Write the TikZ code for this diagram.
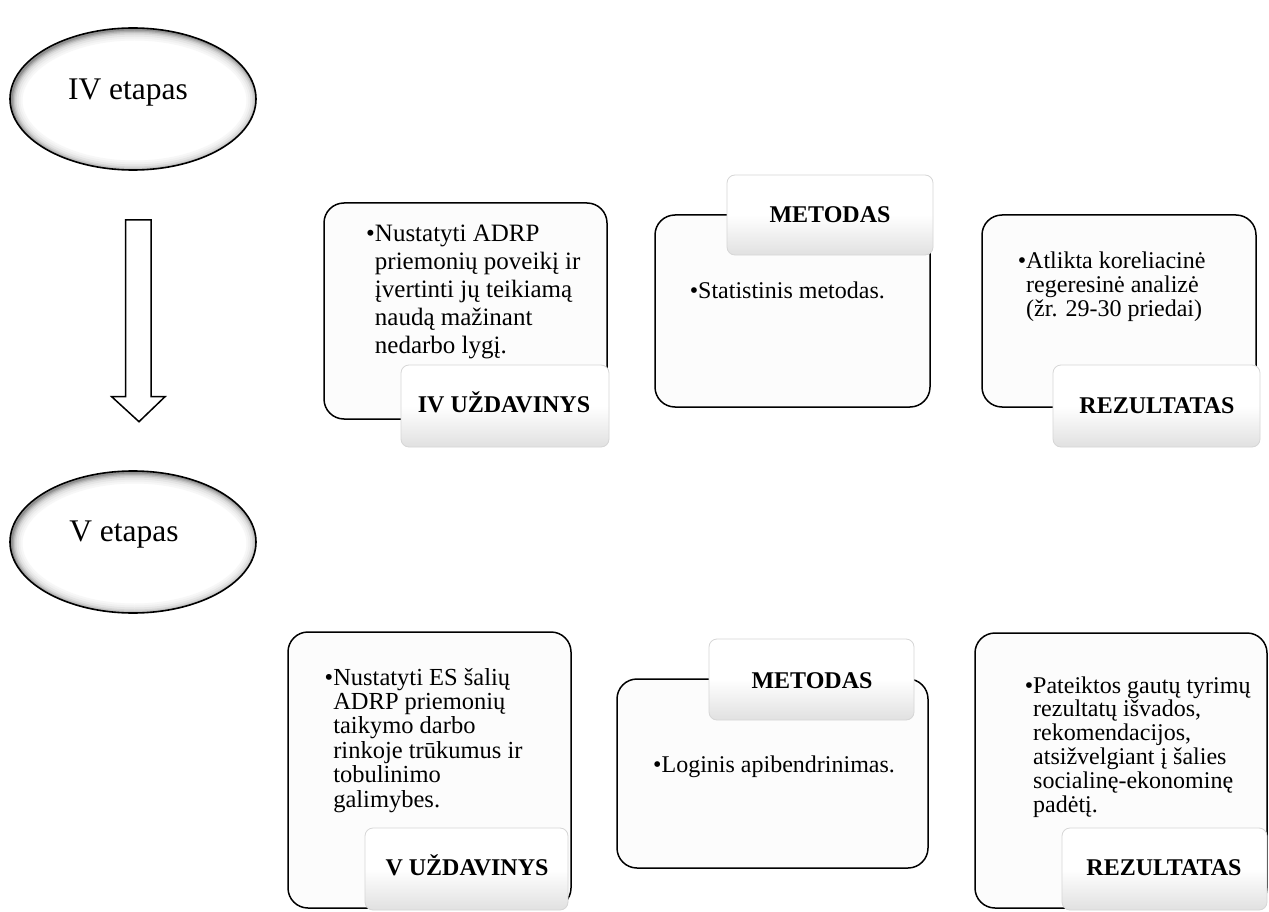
\documentclass[tikz,border=0pt]{standalone}
\usepackage{fontspec}
\setmainfont{Liberation Serif}
\usetikzlibrary{shapes.geometric}
\newcommand\mybul{\textbullet}
\newcommand\myind{\hphantom{\textbullet}}
\newcommand\stageglow[1]{%
  \begin{scope}
    \clip (#1) ellipse [x radius=123, y radius=71];
    \fill[white] (#1) ellipse [x radius=123, y radius=71];
    \foreach \w/\c in {22/3,18/6,14/10,10/16,7/24,4.5/33,2/44}
      \draw[line width=\w pt, black!\c] ([shift={(1.5,1.5)}]#1) ellipse [x radius=123, y radius=71];
  \end{scope}}
\tikzset{
  stage/.style={ellipse, draw=black, line width=1.6pt, minimum width=246pt, minimum height=142pt, inner sep=0pt},
  stagetext/.style={anchor=base, inner sep=0pt, font=\fontsize{31.5}{34}\selectfont},
  mainbox/.style={draw=black, line width=1.5pt, rounded corners=20pt, fill=black!1, inner sep=0pt},
  tagbox/.style={draw=black!16, line width=0.8pt, rounded corners=8pt, top color=white, bottom color=black!12, middle color=white, inner sep=0pt},
  tagtext/.style={anchor=base, inner sep=0pt, font=\fontsize{24}{26}\selectfont\bfseries},
  bodytext/.style={anchor=base west, inner sep=0pt, align=left},
  bigarrow/.style={draw=black, line width=1.5pt, fill=white, line join=miter},
}
\begin{document}
\begin{tikzpicture}[x=1pt, y=-1pt]
\useasboundingbox (0,0) rectangle (1269,912);
\fill[white] (0,0) rectangle (1269,912);

% stages
\coordinate (c1) at (133,99);
\coordinate (c2) at (133,542);
\stageglow{c1}
\stageglow{c2}
\node[stage] (e1) at (c1) {};
\node[stagetext] (e1t) at (128,100) {IV etapas};
\node[stage] (e2) at (c2) {};
\node[stagetext] (e2t) at (124,541) {V etapas};

% big arrow
\draw[bigarrow] (125.7,220) -- (151,220) -- (151,396.7) -- (165,396.7) -- (139,421.7) -- (111.7,396.7) -- (125.7,396.7) -- cycle;

% row 1
\node[mainbox, minimum width=283pt, minimum height=216pt] (b1) at (465.5,311) {};
\node[bodytext, font=\fontsize{25}{28}\selectfont] (t1) at (366,353)
  {\mybul Nustatyti ADRP\\\myind priemonių poveikį ir\\\myind įvertinti jų teikiamą\\\myind naudą mažinant\\\myind nedarbo lygį.};
\node[tagbox, minimum width=208pt, minimum height=82pt] (g1) at (505,406) {};
\node[tagtext] (g1t) at (504,412) {IV UŽDAVINYS};

\node[mainbox, minimum width=275pt, minimum height=192pt] (b2) at (792.5,311) {};
\node[tagbox, minimum width=206pt, minimum height=80pt] (g2) at (830,215) {};
\node[tagtext] (g2t) at (830,223) {METODAS};
\node[bodytext, font=\fontsize{24}{26}\selectfont] (t2) at (689.6,298) {\mybul Statistinis metodas.};

\node[mainbox, minimum width=274pt, minimum height=192pt] (b3) at (1119,311) {};
\node[bodytext, font=\fontsize{24}{24}\selectfont] (t3) at (1017.6,316)
  {\mybul Atlikta koreliacinė\\\myind regeresinė analizė\\\myind (žr. 29-30 priedai)};
\node[tagbox, minimum width=207pt, minimum height=82pt] (g3) at (1156.5,406) {};
\node[tagtext] (g3t) at (1157,413) {REZULTATAS};

% row 2
\node[mainbox, minimum width=283pt, minimum height=276pt] (b4) at (429.5,770) {};
\node[bodytext, font=\fontsize{24.5}{24.4}\selectfont] (t4) at (324.5,807)
  {\mybul Nustatyti ES šalių\\\myind ADRP priemonių\\\myind taikymo darbo\\\myind rinkoje trūkumus ir\\\myind tobulinimo\\\myind galimybes.};
\node[tagbox, minimum width=203pt, minimum height=82pt] (g4) at (466.5,869) {};
\node[tagtext] (g4t) at (467,875) {V UŽDAVINYS};

\node[mainbox, minimum width=311pt, minimum height=189pt] (b5) at (772.5,773.5) {};
\node[tagbox, minimum width=205pt, minimum height=81pt] (g5) at (811.5,679.5) {};
\node[tagtext] (g5t) at (812,688) {METODAS};
\node[bodytext, font=\fontsize{24}{26}\selectfont] (t5) at (653,772) {\mybul Loginis apibendrinimas.};

\node[mainbox, minimum width=292pt, minimum height=275pt] (b6) at (1121,770.5) {};
\node[bodytext, font=\fontsize{24}{23.8}\selectfont] (t6) at (1024.6,812)
  {\mybul Pateiktos gautų tyrimų\\\myind rezultatų išvados,\\\myind rekomendacijos,\\\myind atsižvelgiant į šalies\\\myind socialinę-ekonominę\\\myind padėtį.};
\node[tagbox, minimum width=205pt, minimum height=82pt] (g6) at (1164.5,869) {};
\node[tagtext] (g6t) at (1164,875) {REZULTATAS};
\end{tikzpicture}
\end{document}
